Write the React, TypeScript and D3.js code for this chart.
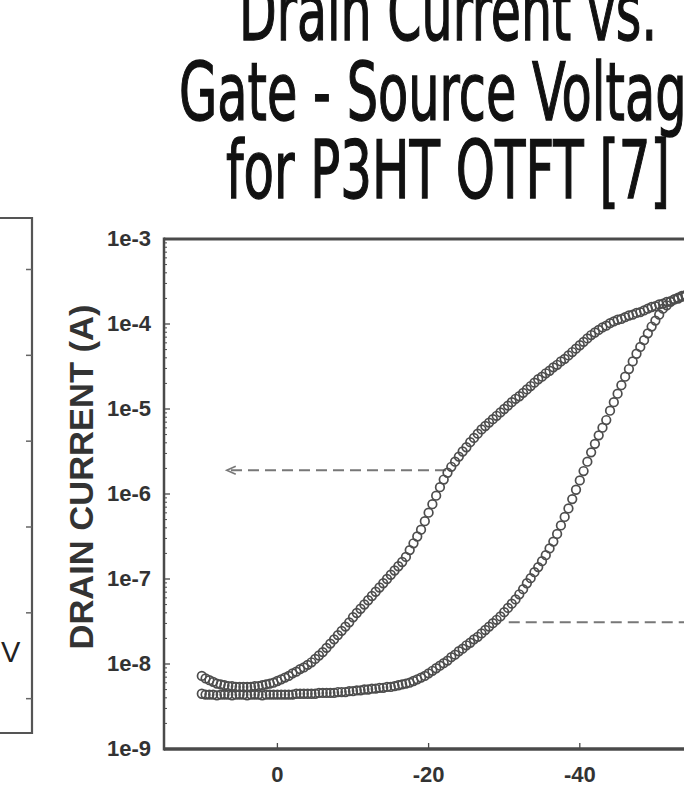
import React from 'react';
import * as d3 from 'd3';

// gate sweep (V) shared by both branches
const gateVoltage = [
  10, 9.5, 9, 8.5, 8, 7.5, 7, 6.5, 6, 5.5,
  5, 4.5, 4, 3.5, 3, 2.5, 2, 1.5, 1, 0.5,
  0, -0.5, -1, -1.5, -2, -2.5, -3, -3.5, -4, -4.5,
  -5, -5.5, -6, -6.5, -7, -7.5, -8, -8.5, -9, -9.5,
  -10, -10.5, -11, -11.5, -12, -12.5, -13, -13.5, -14, -14.5,
  -15, -15.5, -16, -16.5, -17, -17.5, -18, -18.5, -19, -19.5,
  -20, -20.5, -21, -21.5, -22, -22.5, -23, -23.5, -24, -24.5,
  -25, -25.5, -26, -26.5, -27, -27.5, -28, -28.5, -29, -29.5,
  -30, -30.5, -31, -31.5, -32, -32.5, -33, -33.5, -34, -34.5,
  -35, -35.5, -36, -36.5, -37, -37.5, -38, -38.5, -39, -39.5,
  -40, -40.5, -41, -41.5, -42, -42.5, -43, -43.5, -44, -44.5,
  -45, -45.5, -46, -46.5, -47, -47.5, -48, -48.5, -49, -49.5,
  -50, -50.5, -51, -51.5, -52, -52.5, -53, -53.5, -54, -54.5,
  -55, -55.5, -56,
];

// log10 of drain current (A), upper branch
const upperLogId = [
  -8.14, -8.17, -8.19, -8.21, -8.23, -8.24, -8.25, -8.26, -8.26, -8.27,
  -8.27, -8.27, -8.27, -8.27, -8.26, -8.26, -8.25, -8.24, -8.23, -8.22,
  -8.2, -8.18, -8.16, -8.14, -8.11, -8.09, -8.06, -8.04, -8.01, -7.98,
  -7.94, -7.9, -7.86, -7.81, -7.76, -7.71, -7.66, -7.61, -7.56, -7.51,
  -7.45, -7.4, -7.35, -7.3, -7.25, -7.2, -7.15, -7.1, -7.05, -7.0,
  -6.95, -6.9, -6.85, -6.8, -6.74, -6.66, -6.58, -6.5, -6.42, -6.32,
  -6.22, -6.12, -6.02, -5.92, -5.83, -5.75, -5.68, -5.62, -5.56, -5.5,
  -5.45, -5.39, -5.34, -5.29, -5.24, -5.2, -5.16, -5.12, -5.08, -5.04,
  -5.0, -4.96, -4.92, -4.88, -4.85, -4.81, -4.77, -4.73, -4.69, -4.65,
  -4.62, -4.58, -4.55, -4.51, -4.48, -4.44, -4.41, -4.37, -4.33, -4.29,
  -4.25, -4.21, -4.17, -4.13, -4.1, -4.07, -4.04, -4.02, -3.99, -3.97,
  -3.95, -3.94, -3.92, -3.9, -3.89, -3.87, -3.86, -3.84, -3.82, -3.8,
  -3.79, -3.77, -3.76, -3.74, -3.73, -3.71, -3.7, -3.68, -3.67, -3.66,
  -3.65, -3.64, -3.63,
];

// log10 of drain current (A), lower branch
const lowerLogId = [
  -8.35, -8.36, -8.36, -8.36, -8.37, -8.36, -8.36, -8.36, -8.37, -8.36,
  -8.36, -8.36, -8.37, -8.36, -8.36, -8.36, -8.37, -8.36, -8.36, -8.36,
  -8.36, -8.36, -8.36, -8.36, -8.36, -8.35, -8.35, -8.35, -8.35, -8.35,
  -8.35, -8.34, -8.34, -8.34, -8.34, -8.34, -8.33, -8.33, -8.33, -8.32,
  -8.32, -8.31, -8.31, -8.3, -8.3, -8.29, -8.29, -8.28, -8.28, -8.27,
  -8.27, -8.26, -8.25, -8.24, -8.23, -8.22, -8.2, -8.18, -8.16, -8.14,
  -8.11, -8.08, -8.05, -8.02, -7.99, -7.96, -7.92, -7.89, -7.85, -7.82,
  -7.78, -7.75, -7.71, -7.68, -7.64, -7.6, -7.56, -7.52, -7.48, -7.44,
  -7.39, -7.34, -7.29, -7.24, -7.18, -7.12, -7.05, -6.99, -6.92, -6.86,
  -6.79, -6.72, -6.64, -6.56, -6.47, -6.37, -6.27, -6.17, -6.06, -5.95,
  -5.84, -5.73, -5.62, -5.51, -5.41, -5.31, -5.22, -5.13, -5.02, -4.92,
  -4.82, -4.72, -4.62, -4.53, -4.44, -4.35, -4.27, -4.19, -4.11, -4.03,
  -3.96, -3.89, -3.82, -3.78, -3.74, -3.71, -3.69, -3.67, -3.66, -3.65,
  -3.64, -3.63, -3.62,
];

const decadeTicks = [1e-9, 1e-8, 1e-7, 1e-6, 1e-5, 1e-4, 1e-3];
const decadeLabels = ['1e-9', '1e-8', '1e-7', '1e-6', '1e-5', '1e-4', '1e-3'];
const voltTicks = [0, -20, -40];
const voltLabels = ['0', '-20', '-40'];
const titleLines = ['Drain Current vs.', 'Gate - Source Voltage', 'for P3HT OTFT [7]'];
const yTitle = 'DRAIN CURRENT (A)';

// dashed guide arrows: [current (A), start V, end V]
const guideUpper = [1.9e-6, -22.3, 6.7];
const guideLower = [3.1e-8, -30.6, -62];

// neighbouring panel (only its right edge is visible)
const neighbourTicks = [1, 2, 3, 4, 5, 6];

const W = 684;
const H = 796;

export default function App() {
  const x = d3.scaleLinear().domain([15, -60]).range([164, 731]);
  const y = d3.scaleLog().domain([1e-9, 1e-3]).range([749, 239]);
  const nb = d3.scaleLinear().domain([0, 6]).range([218, 733]);

  const minor: number[] = [];
  decadeTicks.slice(0, -1).forEach((d) => {
    for (let k = 2; k <= 9; k++) minor.push(d * k);
  });

  const upper = gateVoltage.map((v, i) => ({ v, i: Math.pow(10, upperLogId[i]) }));
  const lower = gateVoltage.map((v, i) => ({ v, i: Math.pow(10, lowerLogId[i]) }));

  const axisCol = '#4a4a4a';
  const markCol = '#4d4d4d';
  const labelFont = '"Liberation Sans", Arial, Helvetica, sans-serif';
  const titleFont = '"Liberation Sans Narrow", "Arial Narrow", "DejaVu Sans Condensed", sans-serif';

  const titleW = [418, 538, 444];
  const titleY = [40, 120, 198];

  const arrow = (g: number[], dir: number) => {
    const yy = y(g[0]);
    const x1 = x(g[1]);
    const x2 = x(g[2]);
    return (
      <g>
        <line x1={x1} y1={yy} x2={x2} y2={yy} stroke="#777" strokeWidth={2} strokeDasharray="11,6" />
        {dir < 0 && (
          <path d={`M${x2 + 9},${yy - 4} L${x2},${yy} L${x2 + 9},${yy + 4}`} fill="none" stroke="#777" strokeWidth={1.6} />
        )}
      </g>
    );
  };

  return (
    <svg width={W} height={H} style={{ position: 'absolute', left: 0, top: 0, background: '#fff' }}>
      <rect width={W} height={H} fill="#fff" />

      {/* title */}
      {titleLines.map((t, i) => (
        <text key={t} x={448} y={titleY[i]} textAnchor="middle" fontFamily={titleFont} fontSize={80}
          fill="#111" stroke="#111" strokeWidth={1.3} textLength={titleW[i]} lengthAdjust="spacingAndGlyphs">{t}</text>
      ))}

      {/* neighbouring panel edge */}
      <path d={`M0,${nb(0)} H32 V${nb(6)} H0`} fill="none" stroke="#555" strokeWidth={2.2} />
      {neighbourTicks.map((t) => (
        <line key={t} x1={26} x2={32} y1={nb(t - 0.4)} y2={nb(t - 0.4)} stroke="#666" strokeWidth={1.5} />
      ))}
      <text x={1} y={662} fontFamily={labelFont} fontSize={29} fill="#222">V</text>

      {/* frame */}
      <line x1={x(15)} x2={W} y1={y(1e-3)} y2={y(1e-3)} stroke={axisCol} strokeWidth={3} />
      <line x1={x(15)} x2={W} y1={y(1e-9)} y2={y(1e-9)} stroke={axisCol} strokeWidth={3.5} />
      <line x1={x(15)} x2={x(15)} y1={y(1e-3) - 1.5} y2={y(1e-9) + 1.5} stroke={axisCol} strokeWidth={2.5} />

      {/* y ticks */}
      {decadeTicks.map((d, i) => (
        <g key={d}>
          <line x1={x(15)} x2={x(15) + 6} y1={y(d)} y2={y(d)} stroke={axisCol} strokeWidth={1.3} />
          <text x={151} y={y(d) + 7} textAnchor="end" fontFamily={labelFont} fontWeight="bold" fontSize={22} fill="#333">
            {decadeLabels[i]}
          </text>
        </g>
      ))}
      {minor.map((d) => (
        <line key={d} x1={x(15)} x2={x(15) + 3} y1={y(d)} y2={y(d)} stroke={axisCol} strokeWidth={1} />
      ))}

      {/* x ticks */}
      {voltTicks.map((v, i) => (
        <g key={v}>
          <line x1={x(v)} x2={x(v)} y1={y(1e-9)} y2={y(1e-9) - 6} stroke={axisCol} strokeWidth={1.3} />
          <text x={x(v)} y={782} textAnchor="middle" fontFamily={labelFont} fontWeight="bold" fontSize={22} fill="#333">
            {voltLabels[i]}
          </text>
        </g>
      ))}

      {/* y title */}
      <text transform={`translate(93,${477}) rotate(-90)`} textAnchor="middle" fontFamily={labelFont}
        fontWeight="bold" fontSize={33} fill="#333" textLength={345} lengthAdjust="spacingAndGlyphs">{yTitle}</text>

      {/* guides */}
      {arrow(guideUpper, -1)}
      {arrow(guideLower, 1)}

      {/* data */}
      {[upper, lower].map((s, k) => (
        <g key={k}>
          {s.map((p, j) => (
            <circle key={j} cx={x(p.v)} cy={y(p.i)} r={4.3} fill="none" stroke={markCol} strokeWidth={1.7} />
          ))}
        </g>
      ))}
    </svg>
  );
}
